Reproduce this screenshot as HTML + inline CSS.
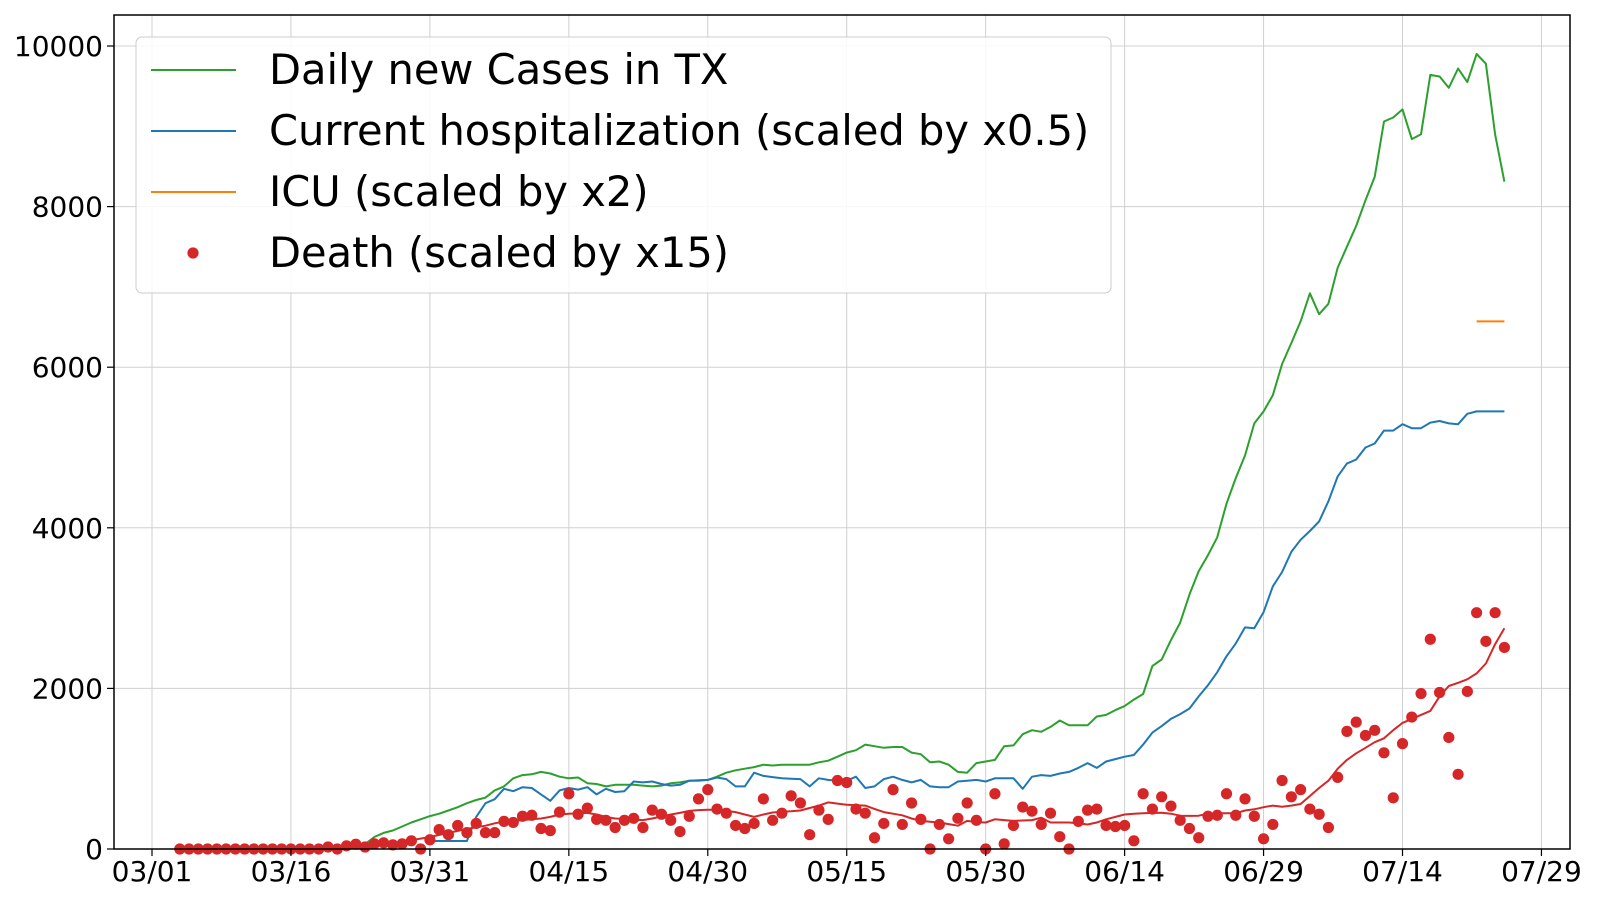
<!DOCTYPE html>
<html><head><meta charset="utf-8"><style>
html,body{margin:0;padding:0;background:#fff;}
svg{display:block;font-family:"DejaVu Sans","Liberation Sans",sans-serif;}
</style></head><body>
<svg id="chart" width="1600" height="900" viewBox="0 0 1600 900">
<rect x="0" y="0" width="1600" height="900" fill="#fff"/>
<g id="grid"></g>
<g id="series"></g>
<rect x="114" y="15" width="1456" height="834" fill="none" stroke="#000" stroke-width="1.5"/>
<g id="axes"></g>
<g id="legend"></g>
</svg>
<script>
const xTickDays = [0,15,30,45,60,75,90,105,120,135,150];
const xTickLabels = ["03/01","03/16","03/31","04/15","04/30","05/15","05/30","06/14","06/29","07/14","07/29"];
const yTicks = [0,2000,4000,6000,8000,10000];
const yTickLabels = ["0","2000","4000","6000","8000","10000"];

const casesStartDay = 19;
const casesValues = [0,0,0,
20,60,150,200,230,280,330,370,410,440,
480,520,570,610,640,730,780,880,920,930,
960,940,900,880,890,820,810,780,800,800,
800,790,780,790,820,830,850,850,860,900,
950,980,1000,1020,1050,1040,1050,1050,1050,1050,
1080,1100,1150,1200,1230,1300,1280,1260,1270,1270,
1200,1180,1080,1090,1050,960,950,1070,1090,1110,
1280,1290,1430,1480,1460,1520,1600,1540,1540,1540,
1650,1670,1730,
1780,1860,1930,2280,2360,2600,2820,3170,3460,3660,
3880,4300,4620,4900,5300,5450,5650,6040,6300,6570,
6920,6660,6790,7240,7500,7760,8080,8370,9060,9110,
9210,8840,8900,9640,9620,9480,9720,9550,9900,9780,8900,8310];

const hospStartDay = 30;
const hospValues = [100,100,100,100,100,
400,570,620,750,720,770,760,680,600,730,
760,740,770,680,750,710,720,840,830,840,
810,790,800,850,855,860,890,870,780,780,
950,910,895,880,875,870,780,880,860,850,
850,900,760,780,870,900,860,830,860,780,
770,770,840,850,860,840,880,880,880,750,
900,920,910,940,960,1010,1070,1010,1090,1120,
1150,1170,1300,1450,1530,1620,1680,1750,1900,2040,
2200,2400,2560,2760,2750,2950,3270,3450,3700,3850,
3960,4080,4330,4640,4800,4850,5000,5050,5210,5210,
5290,5240,5240,5310,5330,5300,5290,5420,5450,5450,5450,5450];

const icuStartDay = 143;
const icuValues = [6570,6570,6570,6570];

const deathStartDay = 3;
const deathValues = [0,0,0,0,0,0,0,0,0,0,0,0,0,0,0,0,
25,0,40,60,
25,64,76,51,64,102,0,115,242,178,
293,204,318,204,204,344,331,408,420,255,
229,459,688,433,510,369,357,268,357,382,
268,484,433,357,217,408,624,739,497,446,
293,255,318,624,357,446,662,573,178,484,
369,853,828,497,446,140,318,739,306,573,
369,0,306,127,382,573,357,0,688,64,
293,522,471,306,446,153,0,344,484,497,
293,280,293,102,688,497,650,535,357,255,
140,408,420,688,420,624,408,127,306,853,
650,739,497,433,268,892,1465,1580,1414,1478,
1198,637,1312,1643,1936,2612,1949,1389,930,1962,
2943,2586,2943,2510];

const avgStartDay = 28;
const avgValues = [110,130,150,175,200,225,250,270,290,320,
340,350,360,370,380,400,430,440,445,450,
430,400,380,375,365,360,380,405,430,450,
475,485,490,490,475,460,430,400,430,455,
465,470,480,510,540,580,565,550,545,540,
500,460,440,420,380,350,340,330,310,290,
350,335,330,370,360,350,355,360,390,330,
330,330,320,305,330,370,400,430,440,445,
450,452,440,415,412,415,440,444,444,444,
480,494,520,540,527,540,560,660,760,850,
1000,1110,1192,1260,1330,1378,1480,1570,1620,1670,
1720,1900,2030,2070,2113,2187,2310,2550,2750];

const NS = "http://www.w3.org/2000/svg";
function xS(d){ return 152 + d*9.263; }
function yS(v){ return 849 - v*0.0803; }
function mk(tag, attrs, parent){
  const e = document.createElementNS(NS, tag);
  for (const k in attrs) e.setAttribute(k, attrs[k]);
  parent.appendChild(e);
  return e;
}
const grid = document.getElementById('grid');
const axes = document.getElementById('axes');
const series = document.getElementById('series');
const legend = document.getElementById('legend');

xTickDays.forEach((d,i)=>{
  const x = xS(d);
  const g = mk('line',{x1:x,x2:x,y1:15,y2:849,stroke:'#d0d0d0','stroke-width':1},grid);
  
  
  const t = mk('line',{x1:x,x2:x,y1:849,y2:856,stroke:'#000','stroke-width':1.2},axes);
  
  
  const l = mk('text',{x:x,y:881,'text-anchor':'middle','font-size':28,fill:'#000'},axes);
  l.textContent = xTickLabels[i];
  
  
});
yTicks.forEach((v,i)=>{
  const y = yS(v);
  const g = mk('line',{x1:114,x2:1570,y1:y,y2:y,stroke:'#d0d0d0','stroke-width':1},grid);
  
  
  const t = mk('line',{x1:107,x2:114,y1:y,y2:y,stroke:'#000','stroke-width':1.2},axes);
  
  
  const l = mk('text',{x:103,y:y+10,'text-anchor':'end','font-size':28,fill:'#000'},axes);
  l.textContent = yTickLabels[i];
  
  
});

function linePath(start, vals){
  return vals.map((v,i)=>(i?'L':'M')+xS(start+i).toFixed(1)+' '+yS(v).toFixed(1)).join(' ');
}
const pc = mk('path',{d:linePath(casesStartDay,casesValues),fill:'none',stroke:'#2ca02c','stroke-width':2,'stroke-linejoin':'round'},series);


const ph = mk('path',{d:linePath(hospStartDay,hospValues),fill:'none',stroke:'#1f77b4','stroke-width':2,'stroke-linejoin':'round'},series);


const pi = mk('path',{d:linePath(icuStartDay,icuValues),fill:'none',stroke:'#ff7f0e','stroke-width':2},series);


deathValues.forEach((v,i)=>{
  const c = mk('circle',{cx:xS(deathStartDay+i),cy:yS(v),r:5.6,fill:'#d62728'},series);
  
  
});
const pa = mk('path',{d:linePath(avgStartDay,avgValues),fill:'none',stroke:'#d62728','stroke-width':2,'stroke-linejoin':'round'},series);



const box = mk('rect',{x:136,y:37,width:975,height:256,rx:6,fill:'#fff','fill-opacity':0.85,stroke:'#cccccc','stroke-width':1},legend);


const entries = [
  ['Daily new Cases in TX','#2ca02c','line'],
  ['Current hospitalization (scaled by x0.5)','#1f77b4','line'],
  ['ICU (scaled by x2)','#ff7f0e','line'],
  ['Death (scaled by x15)','#d62728','dot']
];
entries.forEach((e,i)=>{
  const y = 70 + i*61;
  if (e[2]==='line'){
    const s = mk('line',{x1:151,x2:236,y1:y,y2:y,stroke:e[1],'stroke-width':2},legend);
    
    
  } else {
    const s = mk('circle',{cx:193,cy:y,r:5.6,fill:e[1]},legend);
    
    
  }
  const t = mk('text',{x:269,y:y+14,'font-size':41.6,fill:'#000'},legend);
  t.textContent = e[0];
  
  
});
</script>
</body></html>
